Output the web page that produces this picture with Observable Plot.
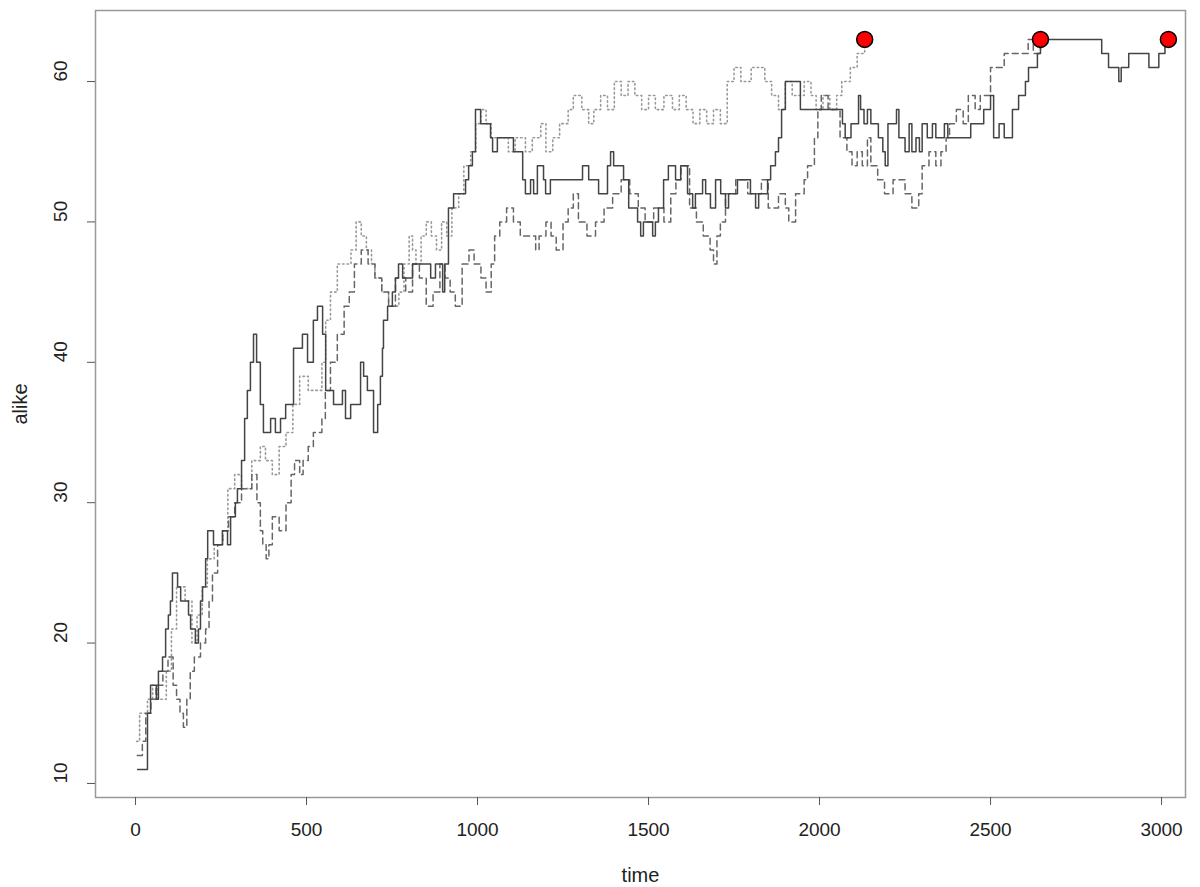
<!DOCTYPE html>
<html>
<head>
<meta charset="utf-8">
<script src="https://cdn.jsdelivr.net/npm/d3@7"></script>
<script src="https://cdn.jsdelivr.net/npm/@observablehq/plot@0.6"></script>
<style>
  html, body { margin: 0; padding: 0; background: #fff; }
  #chart { width: 1200px; height: 887px; }
</style>
</head>
<body>
<div id="chart"></div>
<script>
// tick values
const xTicks = [0, 500, 1000, 1500, 2000, 2500, 3000];
const yTicks = [10, 20, 30, 40, 50, 60];
const xLabel = "time";
const yLabel = "alike";

// series: [time, alike] (step-after)
const solid = [[6,11],[35,15],[44,17],[61,16],[67,18],[79,19],[88,21],[96,22],[102,23],[108,25],[123,24],[132,23],[155,22],[161,21],[175,20],[184,21],[190,23],[196,24],[205,26],[211,28],[228,27],[254,28],[269,27],[278,29],[292,30],[298,31],[310,33],[319,36],[327,38],[336,40],[345,42],[354,40],[365,37],[374,35],[395,36],[409,35],[424,36],[439,37],[462,41],[488,42],[503,40],[520,43],[532,44],[547,42],[556,38],[579,37],[605,38],[614,36],[629,37],[658,40],[667,39],[678,38],[696,35],[708,37],[716,39],[722,41],[725,43],[737,44],[751,45],[760,46],[769,47],[781,46],[810,47],[863,46],[877,47],[898,45],[904,47],[915,51],[930,52],[965,53],[974,54],[985,55],[994,58],[1009,57],[1038,56],[1044,55],[1058,56],[1105,55],[1132,53],[1140,52],[1155,53],[1164,52],[1175,54],[1193,53],[1199,52],[1213,53],[1307,54],[1325,53],[1354,52],[1380,54],[1389,55],[1398,54],[1427,53],[1442,51],[1468,50],[1477,49],[1485,50],[1506,50],[1512,49],[1520,50],[1529,51],[1544,53],[1558,54],[1579,53],[1594,54],[1614,52],[1629,51],[1637,52],[1658,53],[1667,52],[1681,51],[1696,53],[1711,52],[1725,51],[1734,52],[1760,53],[1798,52],[1813,51],[1822,52],[1848,53],[1857,54],[1871,55],[1880,56],[1889,58],[1900,60],[1944,58],[2067,57],[2075,56],[2092,57],[2114,59],[2120,58],[2130,57],[2140,58],[2150,57],[2172,56],[2185,55],[2192,54],[2200,57],[2225,58],[2232,56],[2250,55],[2262,57],[2270,55],[2282,56],[2292,55],[2300,57],[2315,56],[2330,57],[2340,56],[2354,56],[2365,57],[2375,56],[2442,57],[2480,58],[2500,59],[2509,56],[2525,57],[2540,56],[2564,58],[2582,59],[2602,60],[2611,61],[2637,62],[2646,63],[2825,62],[2845,61],[2875,60],[2882,61],[2904,62],[2963,61],[2992,62],[3010,63],[3020,63]];

const dashed = [[5,12],[20,13],[30,15],[45,16],[60,17],[80,18],[95,19],[110,17],[120,16],[130,15],[140,14],[150,16],[160,18],[172,19],[190,20],[205,21],[215,23],[225,25],[240,27],[255,28],[272,29],[290,30],[310,31],[340,32],[355,30],[365,28],[372,27],[382,26],[390,27],[400,29],[420,28],[440,30],[455,32],[465,33],[480,32],[490,33],[505,34],[520,35],[545,36],[555,38],[570,40],[590,42],[610,44],[625,45],[640,47],[660,48],[680,47],[700,46],[720,45],[740,44],[760,46],[790,45],[810,47],[830,46],[850,44],[870,45],[890,47],[905,46],[920,45],[935,44],[955,47],[975,48],[990,47],[1010,46],[1025,45],[1040,47],[1050,49],[1065,50],[1085,51],[1105,50],[1125,49],[1150,49],[1170,48],[1180,49],[1200,50],[1215,49],[1230,48],[1250,50],[1265,51],[1280,52],[1295,50],[1320,49],[1345,50],[1370,51],[1395,52],[1420,53],[1445,52],[1470,51],[1490,50],[1515,51],[1545,50],[1565,52],[1580,53],[1595,54],[1620,51],[1640,50],[1660,49],[1680,48],[1690,47],[1700,49],[1710,50],[1725,52],[1755,53],[1790,52],[1830,53],[1850,51],[1880,52],[1900,51],[1910,50],[1930,52],[1955,53],[1965,54],[1985,56],[1995,58],[2005,59],[2025,58],[2060,56],[2080,55],[2095,54],[2110,55],[2125,54],[2140,56],[2150,54],[2170,53],[2190,52],[2215,53],[2250,52],[2270,51],[2290,52],[2300,54],[2320,55],[2340,54],[2355,55],[2370,56],[2380,57],[2400,58],[2420,57],[2435,59],[2455,58],[2470,59],[2500,61],[2540,62],[2590,62],[2610,63],[2625,62],[2646,63]];

const dotted = [[3,13],[12,15],[35,16],[50,17],[65,16],[90,18],[105,21],[120,24],[145,23],[165,20],[180,22],[195,24],[210,26],[230,27],[255,28],[270,31],[290,32],[310,31],[340,33],[365,34],[380,33],[400,32],[420,34],[440,35],[460,37],[480,39],[505,38],[530,38],[545,40],[556,43],[570,45],[590,47],[610,47],[630,48],[645,50],[660,49],[675,48],[690,47],[700,46],[720,45],[740,44],[770,45],[785,47],[800,49],[810,48],[820,47],[835,49],[850,50],[865,49],[880,48],[895,50],[910,49],[925,51],[945,52],[960,54],[980,55],[995,57],[1010,58],[1025,57],[1040,56],[1065,56],[1090,55],[1110,56],[1140,55],[1160,56],[1185,57],[1200,55],[1220,56],[1240,57],[1265,58],[1280,59],[1305,58],[1325,57],[1340,58],[1360,59],[1380,58],[1400,60],[1420,59],[1440,60],[1460,59],[1480,58],[1500,59],[1520,58],[1545,59],[1570,58],[1590,59],[1610,58],[1630,57],[1650,58],[1670,57],[1690,58],[1710,57],[1730,60],[1750,61],[1770,60],[1800,61],[1825,61],[1840,60],[1860,59],[1880,58],[1900,60],[1920,59],[1955,60],[1975,59],[1990,58],[2010,59],[2030,58],[2050,59],[2065,60],[2090,61],[2110,62],[2132,63]];

const ends = [dotted, dashed, solid].map(s => s[s.length - 1]);

const font = "'Liberation Sans', Arial, Helvetica, sans-serif";

const chart = Plot.plot({
  width: 1200,
  height: 887,
  marginLeft: 95,
  marginRight: 15,
  marginTop: 10,
  marginBottom: 90,
  x: { domain: [-117, 3070], label: null },
  y: { domain: [9.0, 65.06], label: null },
  style: { fontFamily: font, fontSize: "18px", color: "#222", background: "#fff" },
  marks: [
    Plot.frame({ stroke: "#999", strokeWidth: 1.5 }),
    Plot.axisX(xTicks, { tickSize: 8, tickPadding: 17, fontSize: 19, stroke: "#555", tickFormat: d => String(d), label: null }),
    Plot.axisY(yTicks, { tickSize: 8, tickFormat: () => "", stroke: "#555", label: null }),
    Plot.text(yTicks, { y: d => d, text: d => String(d), frameAnchor: "left", dx: -35, rotate: -90, fontSize: 19, fill: "#222" }),
    Plot.text([yLabel], { frameAnchor: "left", dx: -75, rotate: -90, textAnchor: "middle", fontSize: 20, fill: "#222" }),
    Plot.text([xLabel], { frameAnchor: "bottom", dy: 84, fontSize: 20, fill: "#222" }),
    Plot.line(dotted, { x: d => d[0], y: d => d[1], curve: "step-after", stroke: "#999", strokeWidth: 1.6, strokeDasharray: "1.5,3" }),
    Plot.line(dashed, { x: d => d[0], y: d => d[1], curve: "step-after", stroke: "#666", strokeWidth: 1.5, strokeDasharray: "6,4" }),
    Plot.line(solid, { x: d => d[0], y: d => d[1], curve: "step-after", stroke: "#444", strokeWidth: 1.5 }),
    Plot.dot(ends, { x: d => d[0], y: d => d[1], r: 8, fill: "#ff0000", stroke: "#000", strokeWidth: 1.5 })
  ]
});

document.getElementById("chart").appendChild(chart);
</script>
</body>
</html>
